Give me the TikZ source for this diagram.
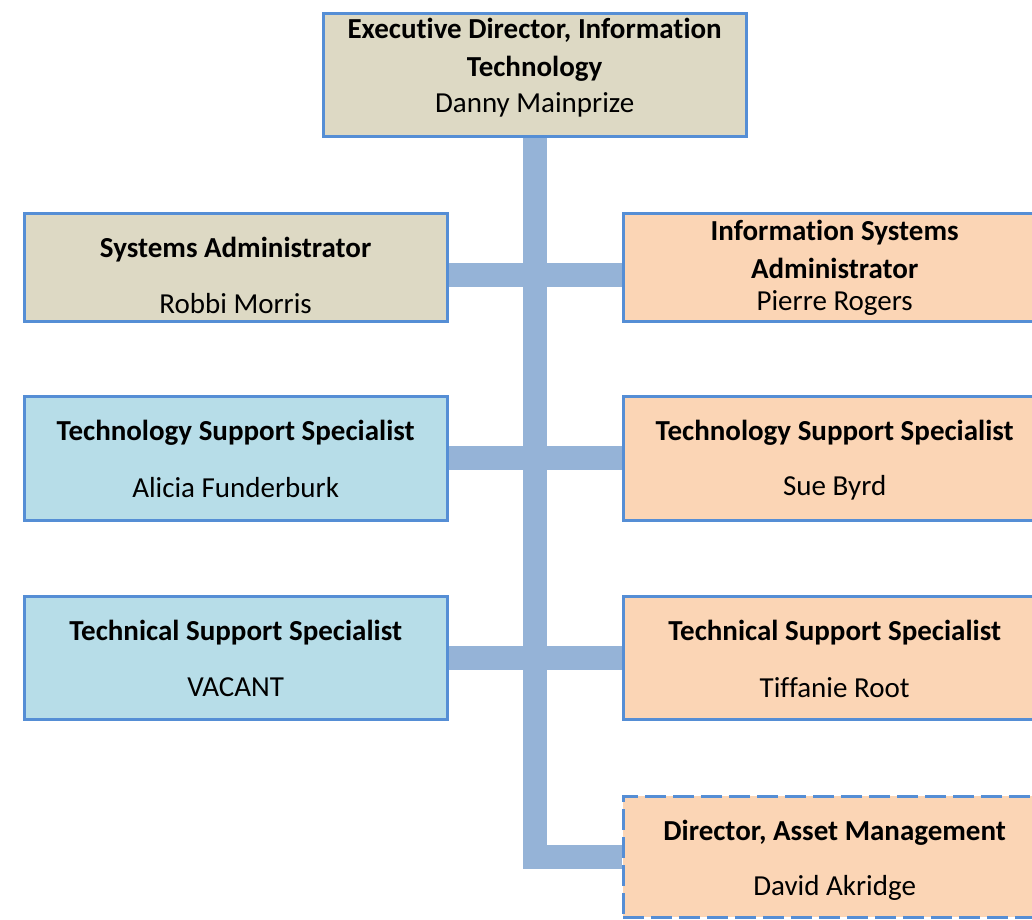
\documentclass[tikz,border=0pt]{standalone}
\usepackage{fontspec}
\setmainfont{Carlito}[Ligatures=NoCommon]
\usepackage{tikz}
\usetikzlibrary{positioning, backgrounds}

\definecolor{edgeblue}{RGB}{85,142,213}
\definecolor{linkblue}{RGB}{149,179,215}
\definecolor{tanfill}{RGB}{221,217,196}
\definecolor{peachfill}{RGB}{251,213,181}
\definecolor{skyfill}{RGB}{183,221,232}

\tikzset{
  post/.style={draw=edgeblue, line width=3.3pt, inner sep=0pt, anchor=north west, minimum width=423pt},
  openpost/.style={post, dash pattern=on 21pt off 7pt},
  link/.style={draw=linkblue, line width=24pt},
  role/.style={font=\bfseries\fontsize{29}{38}\selectfont, align=center},
  who/.style={font=\fontsize{29}{38}\selectfont}
}

\begin{document}
\begin{tikzpicture}[x=1pt, y=-1pt]
    \useasboundingbox (0,0) rectangle (1032,919);

    % Boxes
    \node[post, fill=tanfill, minimum height=123pt] (exec) at (321.5,11.5) {};
    \node[post, fill=tanfill, minimum height=108pt] (sysadm) at (22.5,211.5) {};
    \node[post, fill=peachfill, minimum height=108pt] (isadm) at (621.5,211.5) {};
    \node[post, fill=skyfill, minimum height=124pt] (techL) at (22.5,394.5) {};
    \node[post, fill=peachfill, minimum height=124pt] (techR) at (621.5,394.5) {};
    \node[post, fill=skyfill, minimum height=123pt] (suppL) at (22.5,594.5) {};
    \node[post, fill=peachfill, minimum height=123pt] (suppR) at (621.5,594.5) {};
    \node[openpost, fill=peachfill, minimum height=121pt] (asset) at (621.5,794.5) {};

    % Titles and names
    \node[role] (execT) at ([yshift=-38pt]exec.north) {Executive Director, Information\\Technology};
    \node[who] (execN) at ([yshift=-93pt]exec.north) {Danny Mainprize};
    \node[role] (sysadmT) at ([yshift=-38pt]sysadm.north) {Systems Administrator};
    \node[who] (sysadmN) at ([yshift=-92pt]sysadm.north) {Robbi Morris};
    \node[role] (isadmT) at ([yshift=-38pt]isadm.north) {Information Systems\\Administrator};
    \node[who] (isadmN) at ([yshift=-92pt]isadm.north) {Pierre Rogers};
    \node[role] (techLT) at ([yshift=-38pt]techL.north) {Technology Support Specialist};
    \node[who] (techLN) at ([yshift=-93pt]techL.north) {Alicia Funderburk};
    \node[role] (techRT) at ([yshift=-38pt]techR.north) {Technology Support Specialist};
    \node[who] (techRN) at ([yshift=-93pt]techR.north) {Sue Byrd};
    \node[role] (suppLT) at ([yshift=-38pt]suppL.north) {Technical Support Specialist};
    \node[who] (suppLN) at ([yshift=-93pt]suppL.north) {VACANT};
    \node[role] (suppRT) at ([yshift=-38pt]suppR.north) {Technical Support Specialist};
    \node[who] (suppRN) at ([yshift=-93pt]suppR.north) {Tiffanie Root};
    \node[role] (assetT) at ([yshift=-38pt]asset.north) {Director, Asset Management};
    \node[who] (assetN) at ([yshift=-93pt]asset.north) {David Akridge};

    % Connectors behind the boxes
    \begin{scope}[on background layer]
      \draw[link] (exec.south) -- (exec.south |- asset.west) coordinate (elbow) -- (asset.west);
      \draw[link] ([yshift=-7.5pt]sysadm.east) -- ([yshift=-7.5pt]isadm.west);
      \draw[link] (techL.east) -- (techR.west);
      \draw[link] (suppL.east) -- (suppR.west);
    \end{scope}
\end{tikzpicture}
\end{document}
